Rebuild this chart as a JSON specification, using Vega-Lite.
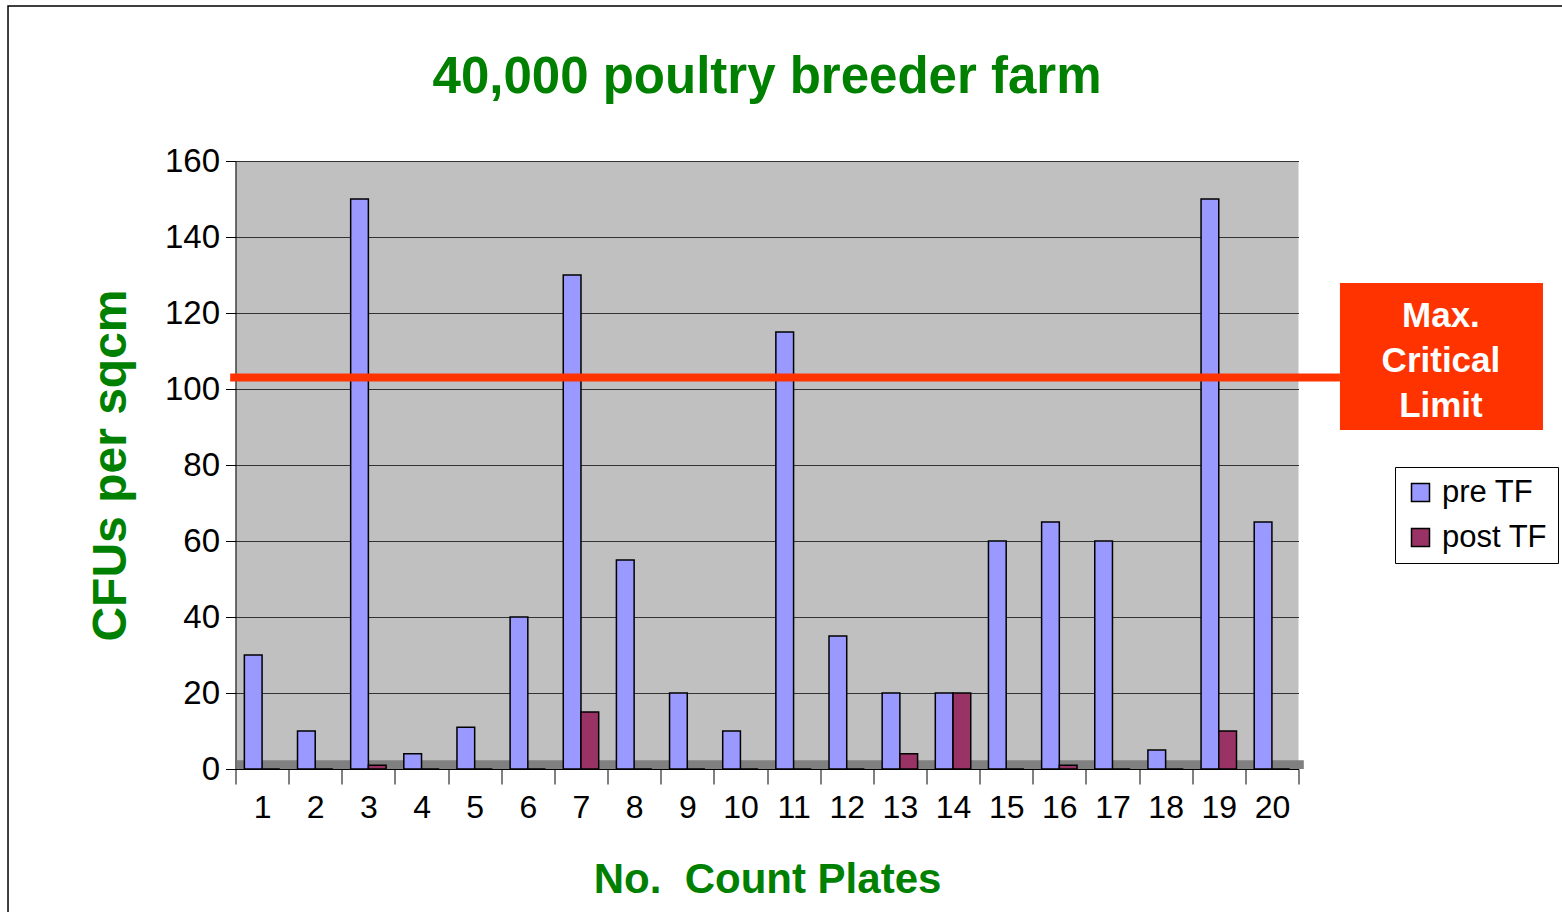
{
  "$schema": "https://vega.github.io/schema/vega-lite/v6.json",
  "width": 1063,
  "height": 608,
  "autosize": {"type": "none"},
  "padding": {"left": 235.5, "top": 161, "right": 263.5, "bottom": 143},
  "background": "white",
  "title": {
    "text": "40,000 poultry breeder farm",
    "font": "Liberation Sans",
    "fontWeight": "bold",
    "fontSize": 51,
    "color": "#008000",
    "anchor": "middle",
    "frame": "group",
    "offset": -99
  },
  "config": {
    "view": {"fill": "#C0C0C0", "stroke": null},
    "axis": {
      "labelFont": "Liberation Sans",
      "labelColor": "black",
      "tickColor": "black",
      "domainColor": "black",
      "titleFont": "Liberation Sans",
      "titleFontWeight": "bold",
      "titleColor": "#008000"
    }
  },
  "layer": [
    {
      "data": {"values": [{"floor": "floor"}]},
      "mark": {"type": "rect", "color": "#808080", "clip": false},
      "encoding": {
        "x": {"datum": 0.02, "type": "quantitative", "scale": {"domain": [0, 20]}, "axis": null},
        "x2": {"datum": 20.1},
        "y": {"datum": 0, "type": "quantitative", "scale": {"domain": [0, 160]}},
        "y2": {"datum": 2.3}
      }
    },
    {
      "data": {
        "values": [
          {"plate": 1, "series": "pre TF", "value": 30}, {"plate": 1, "series": "post TF", "value": 0},
          {"plate": 2, "series": "pre TF", "value": 10}, {"plate": 2, "series": "post TF", "value": 0},
          {"plate": 3, "series": "pre TF", "value": 150}, {"plate": 3, "series": "post TF", "value": 1},
          {"plate": 4, "series": "pre TF", "value": 4}, {"plate": 4, "series": "post TF", "value": 0},
          {"plate": 5, "series": "pre TF", "value": 11}, {"plate": 5, "series": "post TF", "value": 0},
          {"plate": 6, "series": "pre TF", "value": 40}, {"plate": 6, "series": "post TF", "value": 0},
          {"plate": 7, "series": "pre TF", "value": 130}, {"plate": 7, "series": "post TF", "value": 15},
          {"plate": 8, "series": "pre TF", "value": 55}, {"plate": 8, "series": "post TF", "value": 0},
          {"plate": 9, "series": "pre TF", "value": 20}, {"plate": 9, "series": "post TF", "value": 0},
          {"plate": 10, "series": "pre TF", "value": 10}, {"plate": 10, "series": "post TF", "value": 0},
          {"plate": 11, "series": "pre TF", "value": 115}, {"plate": 11, "series": "post TF", "value": 0},
          {"plate": 12, "series": "pre TF", "value": 35}, {"plate": 12, "series": "post TF", "value": 0},
          {"plate": 13, "series": "pre TF", "value": 20}, {"plate": 13, "series": "post TF", "value": 4},
          {"plate": 14, "series": "pre TF", "value": 20}, {"plate": 14, "series": "post TF", "value": 20},
          {"plate": 15, "series": "pre TF", "value": 60}, {"plate": 15, "series": "post TF", "value": 0},
          {"plate": 16, "series": "pre TF", "value": 65}, {"plate": 16, "series": "post TF", "value": 1},
          {"plate": 17, "series": "pre TF", "value": 60}, {"plate": 17, "series": "post TF", "value": 0},
          {"plate": 18, "series": "pre TF", "value": 5}, {"plate": 18, "series": "post TF", "value": 0},
          {"plate": 19, "series": "pre TF", "value": 150}, {"plate": 19, "series": "post TF", "value": 10},
          {"plate": 20, "series": "pre TF", "value": 65}, {"plate": 20, "series": "post TF", "value": 0}
        ]
      },
      "mark": {"type": "bar", "stroke": "black", "strokeWidth": 1.5},
      "encoding": {
        "x": {
          "field": "plate",
          "type": "ordinal",
          "scale": {"paddingInner": 0, "paddingOuter": 0},
          "title": "No.\u00a0 Count Plates",
          "axis": {
            "labelAngle": 0,
            "labelFontSize": 32,
            "tickBand": "extent",
            "tickSize": 15,
            "labelPadding": 8,
            "titleFontSize": 42,
            "titlePadding": 36
          }
        },
        "xOffset": {
          "field": "series",
          "type": "nominal",
          "sort": ["pre TF", "post TF"],
          "scale": {"paddingInner": 0, "paddingOuter": 0.5}
        },
        "y": {
          "field": "value",
          "type": "quantitative",
          "scale": {"domain": [0, 160]},
          "title": "CFUs per sqcm",
          "axis": {
            "values": [0, 20, 40, 60, 80, 100, 120, 140, 160],
            "labelFontSize": 33,
            "tickSize": 10,
            "labelPadding": 6,
            "grid": true,
            "gridColor": "#333333",
            "gridWidth": 1,
            "titleFontSize": 48,
            "titlePadding": 29
          }
        },
        "color": {
          "field": "series",
          "type": "nominal",
          "scale": {"domain": ["pre TF", "post TF"], "range": ["#9999FF", "#993366"]},
          "legend": {
            "title": null,
            "orient": "none",
            "legendX": 1159.5,
            "legendY": 306,
            "fillColor": "white",
            "strokeColor": "black",
            "padding": 10,
            "symbolType": "square",
            "symbolSize": 324,
            "symbolStrokeColor": "black",
            "symbolStrokeWidth": 1.5,
            "labelFont": "Liberation Sans",
            "labelFontSize": 31,
            "labelColor": "black",
            "rowPadding": 13,
            "labelOffset": 6
          }
        }
      }
    },
    {
      "data": {"values": [{"limit": 103}]},
      "mark": {"type": "rule", "color": "#FF3300", "strokeWidth": 8, "clip": false},
      "encoding": {
        "x": {"datum": -0.1, "type": "quantitative", "scale": {"domain": [0, 20]}, "axis": null},
        "x2": {"datum": 20.78},
        "y": {"field": "limit", "type": "quantitative", "scale": {"domain": [0, 160]}}
      }
    },
    {
      "data": {"values": [{"top": 127.9, "bottom": 89.2}]},
      "mark": {"type": "rect", "color": "#FF3300", "clip": false},
      "encoding": {
        "x": {"datum": 20.78, "type": "quantitative", "scale": {"domain": [0, 20]}, "axis": null},
        "x2": {"datum": 24.6},
        "y": {"field": "top", "type": "quantitative", "scale": {"domain": [0, 160]}},
        "y2": {"field": "bottom"}
      }
    },
    {
      "data": {"values": [{"label": "Max.", "pos": 119.2}, {"label": "Critical", "pos": 107.4}, {"label": "Limit", "pos": 95.5}]},
      "mark": {
        "type": "text",
        "font": "Liberation Sans",
        "fontWeight": "bold",
        "fontSize": 35,
        "color": "white",
        "align": "center",
        "baseline": "middle",
        "clip": false
      },
      "encoding": {
        "text": {"field": "label"},
        "x": {"datum": 22.68, "type": "quantitative", "scale": {"domain": [0, 20]}, "axis": null},
        "y": {"field": "pos", "type": "quantitative", "scale": {"domain": [0, 160]}}
      }
    },
    {
      "data": {"values": [{"frame": "border"}]},
      "mark": {"type": "rect", "fill": null, "fillOpacity": 0, "stroke": "black", "strokeWidth": 1.5, "clip": false},
      "encoding": {
        "x": {"datum": -4.28, "type": "quantitative", "scale": {"domain": [0, 20]}, "axis": null},
        "x2": {"datum": 30},
        "y": {"datum": 200.8, "type": "quantitative", "scale": {"domain": [0, 160]}},
        "y2": {"datum": -60}
      }
    }
  ],
  "resolve": {"scale": {"x": "independent"}}
}
